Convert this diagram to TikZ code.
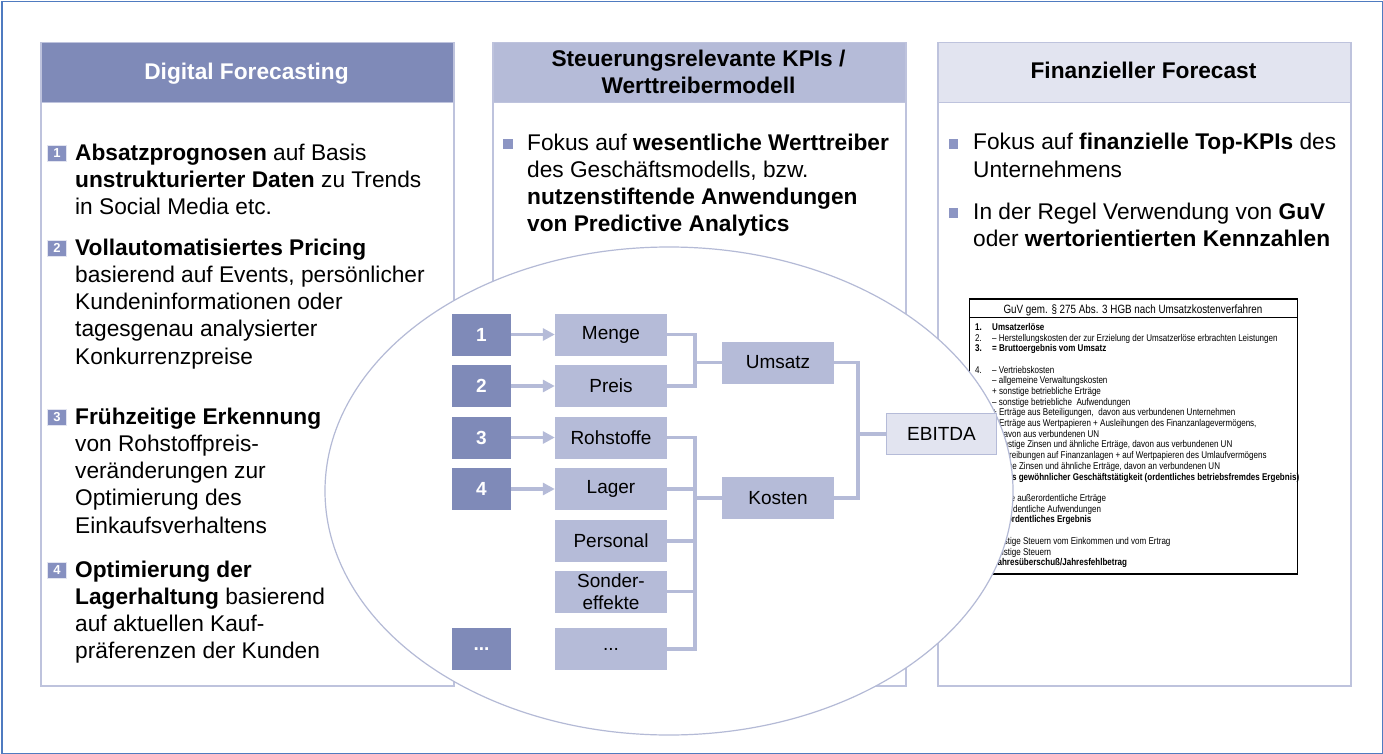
\documentclass[tikz,border=0pt]{standalone}
\usepackage{fontspec}
\setmainfont{Liberation Sans}
\newfontfamily\tabfont[FakeStretch=0.82]{Liberation Sans}
\usetikzlibrary{shapes.geometric,arrows.meta}
\definecolor{dark}{HTML}{7F8AB8}
\definecolor{mid}{HTML}{B5BBD8}
\definecolor{light}{HTML}{E2E4F0}
\definecolor{pborder}{HTML}{BEC3DD}
\definecolor{bulletc}{HTML}{8C95C3}
\definecolor{numc}{HTML}{8690C0}
\definecolor{frameblue}{HTML}{4F7BC0}
\definecolor{ellc}{HTML}{B4BAD6}
\begin{document}
\begin{tikzpicture}[x=1pt,y=-1pt,
  bodytext/.style={font=\fontsize{22.7}{27.3}\selectfont, anchor=base west, inner sep=0pt, align=left},
  panelbox/.style={draw=pborder, line width=1.5pt, fill=white, anchor=north west, minimum width=413pt, minimum height=643pt, inner sep=0pt},
  headbox/.style={draw=pborder, line width=1.5pt, anchor=north west, minimum width=413pt, minimum height=60pt, inner sep=0pt},
  htext/.style={font=\fontsize{22.7}{27}\selectfont\bfseries, anchor=base, inner sep=0pt, align=center},
  numsq/.style={fill=numc, draw=light, line width=0.8pt, minimum width=19pt, minimum height=16pt, inner sep=0pt, text=white, font=\fontsize{13}{13}\selectfont\bfseries},
  sqbul/.style={fill=bulletc, minimum size=9.5pt, inner sep=0pt},
  dbox/.style={fill=dark, minimum width=59pt, minimum height=42pt, inner sep=0pt, text=white, font=\fontsize{19}{22}\selectfont\bfseries},
  mbox/.style={fill=mid, minimum width=112pt, minimum height=42pt, inner sep=0pt, font=\fontsize{19}{22}\selectfont, align=center},
  conn/.style={draw=mid, line width=3.3pt},
  arr/.style={conn, -{Triangle[length=12pt,width=12pt]}},
  trow/.style={font=\tabfont\fontsize{9.8}{10}\selectfont, anchor=base west, inner sep=0pt},
]
\useasboundingbox (0,0) rectangle (1383,754);
\fill[white] (0,0) rectangle (1383,754);
\node[draw=frameblue, line width=1.5pt, anchor=north west, minimum width=1381pt, minimum height=752pt, inner sep=0pt] (frame) at (1,1) {};

% ---------- panels ----------
\node[panelbox] (lpanel) at (40,42) {};
\node[headbox, fill=dark] (lhead) at (40,42) {};
\node[panelbox] (mpanel) at (492,42) {};
\node[headbox, fill=mid] (mhead) at (492,42) {};
\node[panelbox] (rpanel) at (937,42) {};
\node[headbox, fill=light] (rhead) at (937,42) {};

% (multi-line nodes: the base anchor is the baseline of the last line)
\node[htext, text=white] (lht) at (246.5,80) {Digital Forecasting};
\node[htext] (mht) at (698.5,94) {Steuerungsrelevante KPIs /\\Werttreibermodell};
\node[htext] (rht) at (1143.5,79) {Finanzieller Forecast};

% ---------- left panel ----------
\node[numsq] (sq1) at (57,153) {1};
\node[bodytext] (t1) at (75,214.6) {\textbf{Absatzprognosen} auf Basis\\\textbf{unstrukturierter Daten} zu Trends\\in Social Media etc.};
\node[numsq] (sq2) at (57,248) {2};
\node[bodytext] (t2) at (75,364.2) {\textbf{Vollautomatisiertes Pricing}\\basierend auf Events, persönlicher\\Kundeninformationen oder\\tagesgenau analysierter\\Konkurrenzpreise};
\node[numsq] (sq3) at (57,417) {3};
\node[bodytext] (t3) at (75,533.2) {\textbf{Frühzeitige Erkennung}\\von Rohstoffpreis-\\veränderungen zur\\Optimierung des\\Einkaufsverhaltens};
\node[numsq] (sq4) at (57,570) {4};
\node[bodytext] (t4) at (75,658.9) {\textbf{Optimierung der}\\\textbf{Lagerhaltung} basierend\\auf aktuellen Kauf-\\präferenzen der Kunden};

% ---------- middle panel ----------
\node[sqbul] (mb1) at (508,144) {};
\node[bodytext] (mt1) at (527,231.9) {Fokus auf \textbf{wesentliche Werttreiber}\\des Geschäftsmodells, bzw.\\\textbf{nutzenstiftende Anwendungen}\\\textbf{von Predictive Analytics}};

% ---------- right panel ----------
\node[sqbul] (rb1) at (953.5,144) {};
\node[bodytext] (rt1) at (973,177.3) {Fokus auf \textbf{finanzielle Top-KPIs} des\\Unternehmens};
\node[sqbul] (rb2) at (953.5,213) {};
\node[bodytext] (rt2) at (973,246.3) {In der Regel Verwendung von \textbf{GuV}\\oder \textbf{wertorientierten Kennzahlen}};

% ---------- GuV table ----------
\node[draw=black, line width=1.2pt, anchor=north west, minimum width=328pt, minimum height=274pt, inner sep=0pt] (guv) at (969,299) {};
\draw[line width=2.5pt] (guv.north west) -- (guv.north east);
\draw[line width=2.5pt] (guv.south west) -- (guv.south east);
\draw[line width=0.8pt] ([yshift=-18pt]guv.north west) -- ([yshift=-18pt]guv.north east);
\node[font=\tabfont\fontsize{12}{12}\selectfont, inner sep=0pt, anchor=base] (guvh) at (1133,313) {GuV gem. § 275 Abs. 3 HGB nach Umsatzkostenverfahren};
\node[trow] (n1t) at (975,330.4) {\bfseries 1.};
\node[trow] (r1) at (992,330.4) {\bfseries Umsatzerlöse};
\node[trow] (n2t) at (975,341.4) {2.};
\node[trow] (r2) at (992,341.4) {– Herstellungskosten der zur Erzielung der Umsatzerlöse erbrachten Leistungen};
\node[trow] (n3t) at (975,351.4) {\bfseries 3.};
\node[trow] (r3) at (992,351.4) {\bfseries = Bruttoergebnis vom Umsatz};
\node[trow] (n4t) at (975,373.4) {4.};
\node[trow] (r5) at (992,373.4) {– Vertriebskosten};
\node[trow] (r6) at (992,383.4) {– allgemeine Verwaltungskosten};
\node[trow] (r7) at (992,394.4) {+ sonstige betriebliche Erträge};
\node[trow] (r8) at (992,405.4) {– sonstige betriebliche\ \ Aufwendungen};
\node[trow] (r9) at (992,415.4) {+ Erträge aus Beteiligungen,\ \ davon aus verbundenen Unternehmen};
\node[trow] (r10) at (992,426.4) {+ Erträge aus Wertpapieren + Ausleihungen des Finanzanlagevermögens,};
\node[trow] (r11) at (999,437.4) {davon aus verbundenen UN};
\node[trow] (r12) at (988,447.4) {+ sonstige Zinsen und ähnliche Erträge, davon aus verbundenen UN};
\node[trow] (r13) at (980,458.4) {– Abschreibungen auf Finanzanlagen + auf Wertpapieren des Umlaufvermögens};
\node[trow] (r14) at (980,469.4) {– sonstige Zinsen und ähnliche Erträge, davon an verbundenen UN};
\node[trow] (r15) at (975,480.4) {\bfseries = Ergebnis gewöhnlicher Geschäftstätigkeit (ordentliches betriebsfremdes Ergebnis)};
\node[trow] (r17) at (978,501.4) {+ sonstige außerordentliche Erträge};
\node[trow] (r18) at (978,512.4) {– außerordentliche Aufwendungen};
\node[trow] (r19) at (978,522.4) {\bfseries = außerordentliches Ergebnis};
\node[trow] (r21) at (984,544.4) {– sonstige Steuern vom Einkommen und vom Ertrag};
\node[trow] (r22) at (984,555.4) {– sonstige Steuern};
\node[trow] (r23) at (986,565.4) {\bfseries = Jahresüberschuß/Jahresfehlbetrag};

% ---------- ellipse ----------
\node[ellipse, draw=ellc, line width=1.2pt, fill=white, minimum width=688pt, minimum height=488pt, inner sep=0pt] (oval) at (669,491) {};

% ---------- driver tree ----------
\node[dbox] (k1) at (481.5,334.5) {1};
\node[dbox] (k2) at (481.5,386) {2};
\node[dbox] (k3) at (481.5,437.5) {3};
\node[dbox] (k4) at (481.5,489) {4};
\node[dbox] (kd) at (481.5,649) {...};

\node[mbox] (menge) at (611,334.5) {Menge};
\node[mbox] (preis) at (611,386) {Preis};
\node[mbox] (roh) at (611,437.5) {Rohstoffe};
\node[mbox] (lager) at (611,489) {Lager};
\node[mbox] (personal) at (611,541) {Personal};
\node[mbox] (sonder) at (611,591.5) {Sonder-\\effekte};
\node[mbox] (md) at (611,649) {...};

\node[mbox] (umsatz) at (778,362.5) {Umsatz};
\node[mbox] (kosten) at (778,498) {Kosten};
\node[mbox, fill=light, draw=mid, line width=1pt, minimum width=110pt, minimum height=41pt] (ebitda) at (941.5,434) {EBITDA};

\draw[arr] (k1.east) -- (menge.west);
\draw[arr] (k2.east) -- (preis.west);
\draw[arr] (k3.east) -- (roh.west);
\draw[arr] (k4.east) -- (lager.west);

\coordinate (bu) at (695,362.5);
\coordinate (bk) at (695,498);
\coordinate (be) at (858,434);
\draw[conn] (menge.east) -| (bu) |- (preis.east);
\draw[conn] (bu) -- (umsatz.west);
\draw[conn] (roh.east) -| (bk);
\draw[conn] (lager.east) -| (bk);
\draw[conn] (personal.east) -| (bk);
\draw[conn] (sonder.east) -| (bk);
\draw[conn] (md.east) -| (bk);
\draw[conn] (bk) -- (kosten.west);
\draw[conn] (umsatz.east) -| (be) |- (kosten.east);
\draw[conn] (be) -- (ebitda.west);
\end{tikzpicture}
\end{document}
